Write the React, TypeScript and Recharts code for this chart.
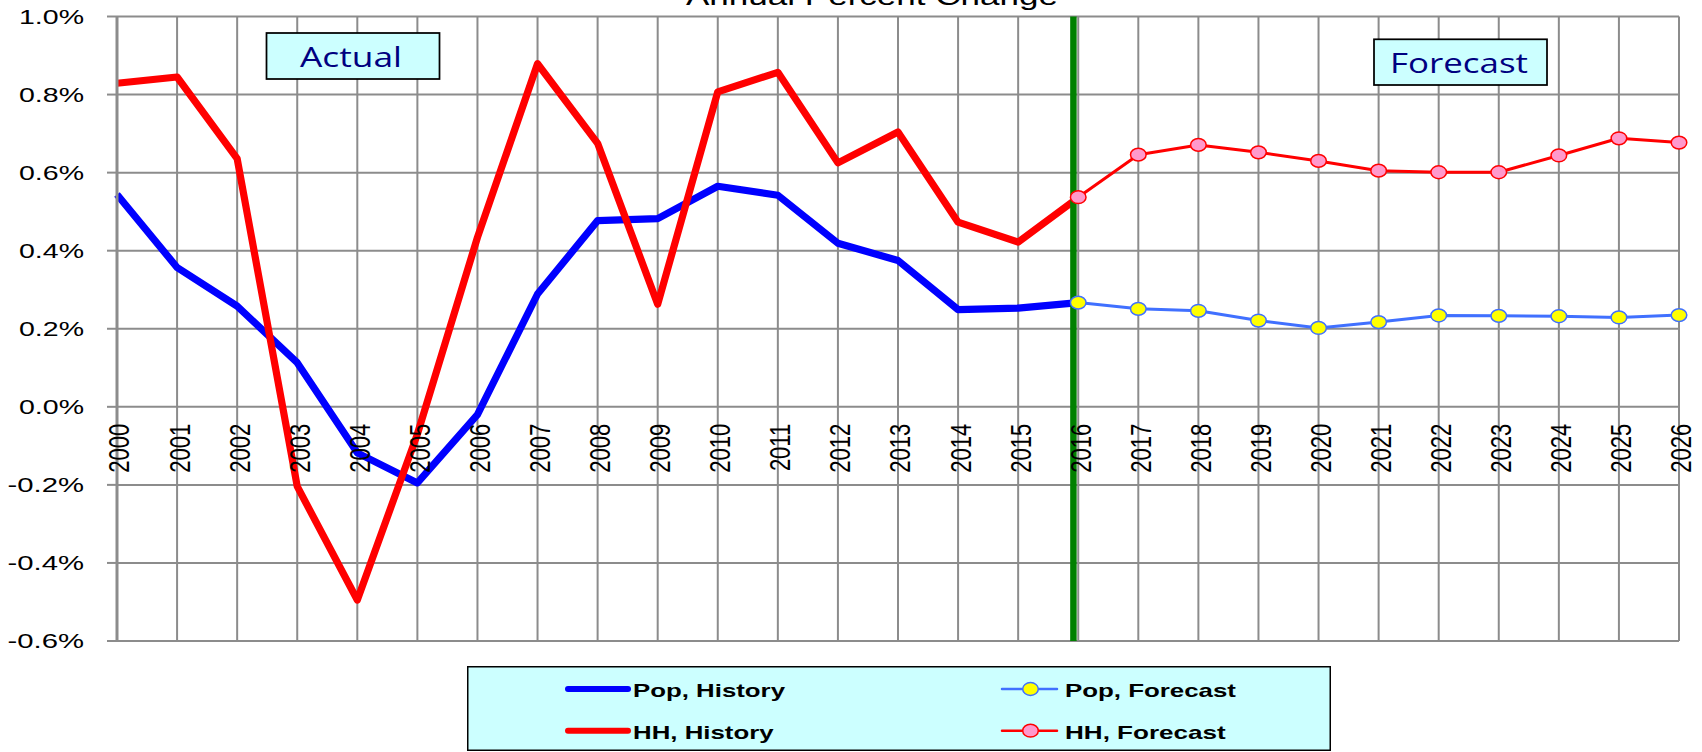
import React from "react";
import { LineChart, Line, XAxis, YAxis, CartesianGrid, ReferenceLine, Legend } from "recharts";

const years = [
  2000, 2001, 2002, 2003, 2004, 2005, 2006, 2007, 2008, 2009, 2010, 2011, 2012, 2013,
  2014, 2015, 2016, 2017, 2018, 2019, 2020, 2021, 2022, 2023, 2024, 2025, 2026,
];

// 2000 - 2016
const popHistory = [
  0.544, 0.357, 0.258, 0.113, -0.118, -0.195, -0.02, 0.289, 0.477, 0.482, 0.565, 0.542,
  0.419, 0.375, 0.249, 0.253, 0.267,
];
const hhHistory = [
  0.829, 0.845, 0.636, -0.204, -0.495, -0.07, 0.434, 0.879, 0.675, 0.263, 0.807, 0.857,
  0.625, 0.704, 0.473, 0.422, 0.536,
];

// 2016 - 2026
const popForecast = [0.267, 0.251, 0.246, 0.221, 0.202, 0.217, 0.234, 0.233, 0.232, 0.229, 0.235];
const hhForecast = [0.537, 0.646, 0.671, 0.652, 0.63, 0.605, 0.601, 0.601, 0.644, 0.688, 0.677];

const yTicks = [1.0, 0.8, 0.6, 0.4, 0.2, 0.0, -0.2, -0.4, -0.6];
const Y_MIN = -0.6;
const Y_MAX = 1.0;
const splitYear = 2016;
// the green divider sits a hair left of the 2016 gridline in the original
const dividerX = 2015.92;

const title = "Annual Percent Change";
const actualLabel = "Actual";
const forecastLabel = "Forecast";

const W = 1702;
const H = 752;
const TOP = 16.5;
const X_AXIS_H = 111;
const Y_AXIS_W = 117;
const PLOT_H = H - TOP - X_AXIS_H;
const zeroY = TOP + (Y_MAX / (Y_MAX - Y_MIN)) * PLOT_H;

const GRID = "#8c8c8c";
const FC_BLUE = "#4070ff";

const forecastStart = years.indexOf(splitYear);
const rows = years.map((year, i) => ({
  year,
  popHist: i < popHistory.length ? popHistory[i] : null,
  hhHist: i < hhHistory.length ? hhHistory[i] : null,
  popFc: i >= forecastStart ? popForecast[i - forecastStart] : null,
  hhFc: i >= forecastStart ? hhForecast[i - forecastStart] : null,
}));

const series = [
  { key: "popHist", name: "Pop, History", color: "#0000ff", width: 7.2, dotFill: null },
  { key: "hhHist", name: "HH, History", color: "#ff0000", width: 7.2, dotFill: null },
  { key: "popFc", name: "Pop, Forecast", color: FC_BLUE, width: 3, dotFill: "#ffff00" },
  { key: "hhFc", name: "HH, Forecast", color: "#ff0000", width: 3, dotFill: "#ff99cc" },
];

const makeDot = (fill: string, stroke: string) => (props: any) => {
  const { cx, cy, index, value } = props;
  if (value == null || cx == null || cy == null) return <g key={index} />;
  return <ellipse key={index} cx={cx} cy={cy} rx={7.8} ry={6.4} fill={fill} stroke={stroke} strokeWidth={1.5} />;
};

const YTick = (props: any) => {
  const { x, y, payload } = props;
  const label = payload.value.toFixed(1) + "%";
  const len = label.startsWith("-") ? 76.5 : 65;
  return (
    <text x={x} y={y} dy="0.36em" textAnchor="end" fontSize={20} fill="#000"
      fontFamily="Liberation Sans, Arial, sans-serif" textLength={len} lengthAdjust="spacingAndGlyphs">
      {label}
    </text>
  );
};

const XTick = (props: any) => {
  const { x, payload } = props;
  return (
    <text transform={`translate(${x + 1.5},${zeroY + 17}) rotate(-90) scale(1,1.38)`}
      textAnchor="end" dy="0.36em" fontSize={22} fill="#000"
      fontFamily="Liberation Sans, Arial, sans-serif">
      {payload.value}
    </text>
  );
};

const LegendBox = () => {
  const rowsY = [23, 64.7];
  const textLen: Record<string, number> = {
    "Pop, History": 152,
    "HH, History": 140.6,
    "Pop, Forecast": 171,
    "HH, Forecast": 160.7,
  };
  return (
    <svg width={864} height={86} style={{ display: "block" }}>
      <rect x={0.75} y={0.75} width={862.5} height={83.5} fill="#ccffff" stroke="#000" strokeWidth={1.5} />
      {series.map((s, i) => {
        const col = i < 2 ? 0 : 1;
        const cy = rowsY[i % 2];
        const x1 = col === 0 ? 101 : 535;
        const x2 = col === 0 ? 161 : 590;
        const tx = col === 0 ? 166 : 598;
        return (
          <g key={s.key}>
            <line x1={x1} x2={x2} y1={cy} y2={cy} stroke={s.color}
              strokeWidth={s.dotFill ? 2.5 : 6} strokeLinecap="round" />
            {s.dotFill && (
              <ellipse cx={(x1 + x2) / 2 + 1} cy={cy} rx={7.8} ry={6.4} fill={s.dotFill} stroke={s.color} strokeWidth={1.5} />
            )}
            <text x={tx} y={cy + 7.8} fontSize={19} fontWeight="bold" fill="#000"
              fontFamily="Liberation Sans, Arial, sans-serif"
              textLength={textLen[s.name]} lengthAdjust="spacingAndGlyphs">
              {s.name}
            </text>
          </g>
        );
      })}
    </svg>
  );
};

export default function App() {
  return (
    <div style={{ position: "absolute", left: 0, top: 0, width: W, height: H, background: "#fff" }}>
      <LineChart width={W} height={H} data={rows} margin={{ top: TOP, right: 23, left: 0, bottom: 0 }}>
        <CartesianGrid stroke={GRID} strokeWidth={2} />
        <XAxis dataKey="year" type="number" domain={[2000, 2026]} ticks={years} interval={0}
          height={X_AXIS_H} axisLine={false} tickLine={false} tick={<XTick />} />
        <YAxis type="number" domain={[Y_MIN, Y_MAX]} ticks={yTicks} interval={0} width={Y_AXIS_W}
          axisLine={{ stroke: GRID, strokeWidth: 3 }} tickLine={{ stroke: GRID, strokeWidth: 2 }}
          tickSize={10} tickMargin={23} tick={<YTick />} />
        {series.map((s) => (
          <Line key={s.key} dataKey={s.key} name={s.name} type="linear" stroke={s.color}
            strokeWidth={s.width} strokeLinejoin="round"
            dot={s.dotFill ? makeDot(s.dotFill, s.color) : false}
            activeDot={false} isAnimationActive={false} connectNulls={false} />
        ))}
        <ReferenceLine x={dividerX} stroke="#008000" strokeWidth={6.5} />
        <Legend layout="horizontal" verticalAlign="middle" align="center"
          wrapperStyle={{ left: 467, top: 666, width: 864, height: 86 }}
          content={() => <LegendBox />} />
      </LineChart>
      <svg width={W} height={H} style={{ position: "absolute", left: 0, top: 0, pointerEvents: "none" }}>
        <text x={686} y={5} fontSize={26} fill="#000" fontFamily="Liberation Sans, Arial, sans-serif"
          textLength={372} lengthAdjust="spacingAndGlyphs">
          {title}
        </text>
        <rect x={266.5} y={33} width={173} height={46} fill="#ccffff" stroke="#000" strokeWidth={1.75} />
        <text x={300} y={66.7} fontSize={28} fill="#000080" fontFamily="Open Sans, sans-serif"
          textLength={102} lengthAdjust="spacingAndGlyphs">
          {actualLabel}
        </text>
        <rect x={1374} y={39.3} width={173} height={45.7} fill="#ccffff" stroke="#000" strokeWidth={1.75} />
        <text x={1390} y={72.7} fontSize={27} fill="#000080" fontFamily="Open Sans, sans-serif"
          textLength={138} lengthAdjust="spacingAndGlyphs">
          {forecastLabel}
        </text>
      </svg>
    </div>
  );
}
